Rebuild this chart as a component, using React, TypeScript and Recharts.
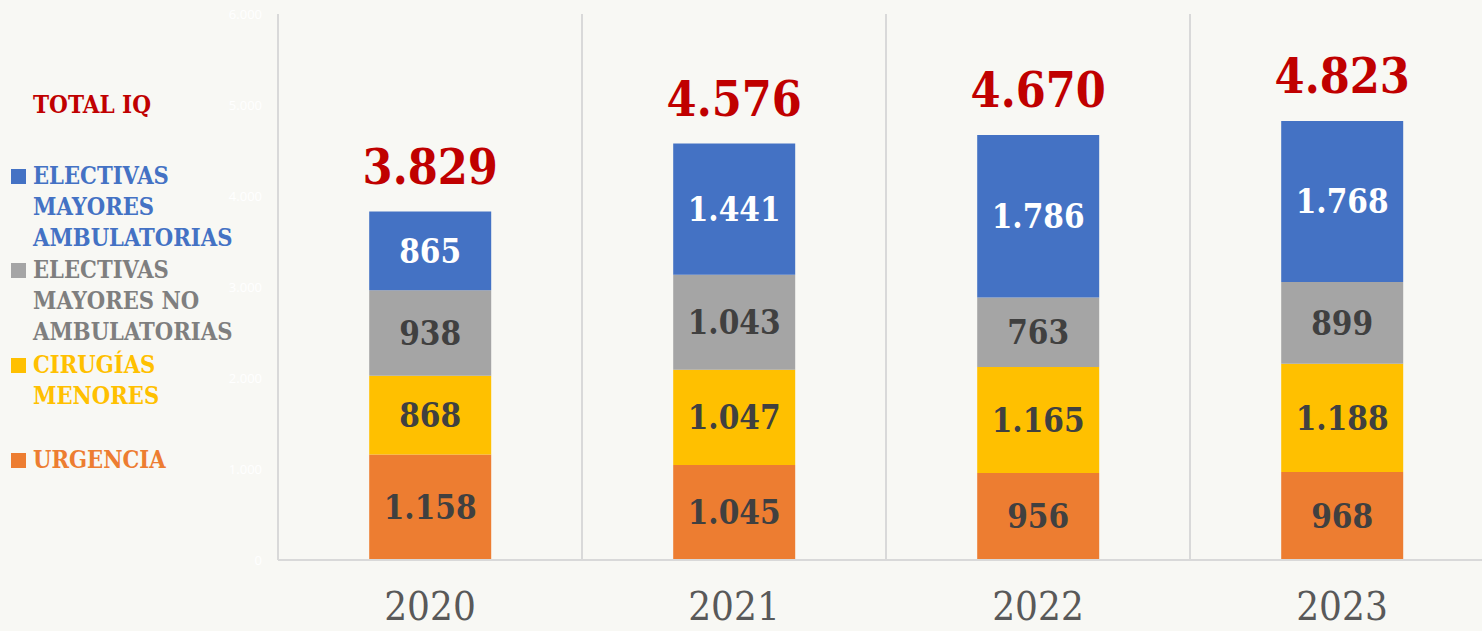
import { BarChart, Bar, XAxis, YAxis, CartesianGrid, LabelList } from "recharts";

const years = ["2020", "2021", "2022", "2023"];
const urgencia = [1158, 1045, 956, 968];
const cirugiasMenores = [868, 1047, 1165, 1188];
const noAmbulatorias = [938, 1043, 763, 899];
const ambulatorias = [865, 1441, 1786, 1768];
const yTicks = [0, 1000, 2000, 3000, 4000, 5000, 6000];

const BG = "#f8f8f4";
const SERIF = "'DejaVu Serif Condensed', 'DejaVu Serif', serif";

const fmt = (v: unknown) => Number(v).toLocaleString("de-DE");

const data = years.map((y, i) => ({
  year: y,
  urg: urgencia[i],
  men: cirugiasMenores[i],
  noamb: noAmbulatorias[i],
  amb: ambulatorias[i],
  total: urgencia[i] + cirugiasMenores[i] + noAmbulatorias[i] + ambulatorias[i],
}));

const legendItems = [
  { lines: ["ELECTIVAS", "MAYORES", "AMBULATORIAS"], sq: "#4472c4", text: "#4472c4", top: 161 },
  { lines: ["ELECTIVAS", "MAYORES NO", "AMBULATORIAS"], sq: "#a5a5a5", text: "#7f7f7f", top: 255 },
  { lines: ["CIRUGÍAS", "MENORES"], sq: "#ffc000", text: "#ffc000", top: 350 },
  { lines: ["URGENCIA"], sq: "#ed7d31", text: "#ed7d31", top: 445 },
];

const segLabel = (fill: string) => ({
  position: "center" as const,
  formatter: fmt,
  fill,
  fontSize: 33,
  fontWeight: 700,
  fontFamily: SERIF,
});

export default function App() {
  return (
    <div
      style={{
        position: "absolute",
        left: 0,
        top: 0,
        width: 1482,
        height: 631,
        overflow: "hidden",
        background: BG,
      }}
    >
      <BarChart
        width={1500}
        height={631}
        data={data}
        margin={{ top: 14, right: 6, left: 0, bottom: 0 }}
        barCategoryGap="30%"
      >
        <CartesianGrid
          horizontal={false}
          stroke="#d9d9d9"
          strokeWidth={2}
          verticalCoordinatesGenerator={({ offset }: any) =>
            years.map((_, i) => offset.left + (i * offset.width) / years.length)
          }
        />
        <XAxis
          dataKey="year"
          height={71}
          axisLine={{ stroke: "#d9d9d9", strokeWidth: 2 }}
          tickLine={false}
          tickMargin={26}
          tick={{ fill: "#595959", fontSize: 40, fontFamily: SERIF }}
        />
        <YAxis
          width={278}
          domain={[0, 6000]}
          ticks={yTicks}
          tickFormatter={fmt}
          axisLine={false}
          tickLine={false}
          tickSize={0}
          tickMargin={16}
          tick={{ fill: "#ffffff", fontSize: 13, fontFamily: "'Open Sans', sans-serif" }}
        />
        <Bar dataKey="urg" stackId="a" fill="#ed7d31" isAnimationActive={false}>
          <LabelList dataKey="urg" {...segLabel("#404040")} />
        </Bar>
        <Bar dataKey="men" stackId="a" fill="#ffc000" isAnimationActive={false}>
          <LabelList dataKey="men" {...segLabel("#404040")} />
        </Bar>
        <Bar dataKey="noamb" stackId="a" fill="#a5a5a5" isAnimationActive={false}>
          <LabelList dataKey="noamb" {...segLabel("#404040")} />
        </Bar>
        <Bar dataKey="amb" stackId="a" fill="#4472c4" isAnimationActive={false}>
          <LabelList dataKey="amb" {...segLabel("#ffffff")} />
          <LabelList
            dataKey="total"
            position="top"
            offset={28}
            formatter={fmt}
            fill="#c00000"
            fontSize={48}
            fontWeight={700}
            fontFamily={SERIF}
          />
        </Bar>
      </BarChart>

      <div
        style={{
          position: "absolute",
          left: 33,
          top: 89,
          color: "#c00000",
          fontFamily: SERIF,
          fontWeight: 700,
          fontSize: 24,
          lineHeight: "31px",
        }}
      >
        TOTAL IQ
      </div>
      {legendItems.map((it) => (
        <div
          key={it.lines.join(" ")}
          style={{
            position: "absolute",
            left: 11,
            top: it.top,
            fontFamily: SERIF,
            fontWeight: 700,
            fontSize: 23.5,
            lineHeight: "31px",
            color: it.text,
          }}
        >
          <span
            style={{
              position: "absolute",
              left: 0,
              top: 8,
              width: 15,
              height: 15,
              background: it.sq,
            }}
          />
          <div style={{ marginLeft: 22, whiteSpace: "nowrap" }}>
            {it.lines.map((l) => (
              <div key={l}>{l}</div>
            ))}
          </div>
        </div>
      ))}
    </div>
  );
}
